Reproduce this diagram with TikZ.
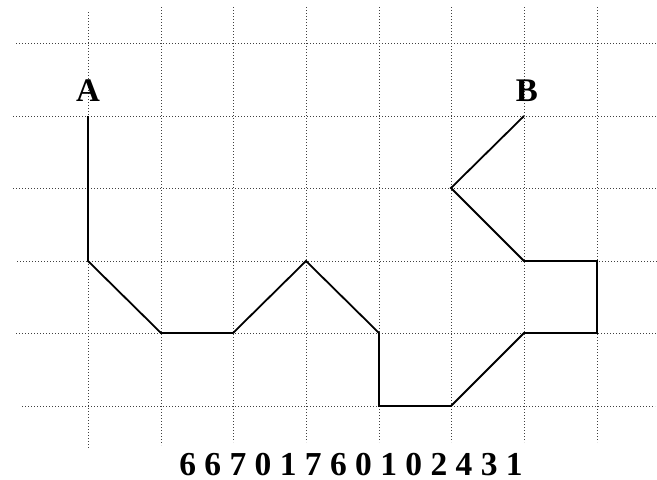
\documentclass[tikz,border=0pt]{standalone}
\usepackage{fontspec}
\setmainfont{Liberation Serif}
\begin{document}
\begin{tikzpicture}[x=1pt,y=-1pt,
  gridline/.style={black!75,line width=0.8pt,dash pattern=on 0.9pt off 2.1pt},
  chain/.style={line width=1.8pt,line join=miter},
  lbl/.style={font=\fontsize{33}{40}\selectfont\bfseries,inner sep=0pt,anchor=base,text depth=0pt}]
\useasboundingbox (0,0) rectangle (657,480);
% horizontal grid lines
\draw[gridline] (16,43) -- (657,43);
\draw[gridline] (13,116) -- (657,116);
\draw[gridline] (13,188) -- (657,188);
\draw[gridline] (17,261) -- (657,261);
\draw[gridline] (16,333) -- (657,333);
\draw[gridline] (22,406) -- (655,406);
% vertical grid lines
\draw[gridline] (88,12) -- (88,448);
\draw[gridline] (161,7) -- (161,445);
\draw[gridline] (233,7) -- (233,442);
\draw[gridline] (306,7) -- (306,442);
\draw[gridline] (379,7) -- (379,442);
\draw[gridline] (451,7) -- (451,442);
\draw[gridline] (524,7) -- (524,442);
\draw[gridline] (597,7) -- (597,442);
% chain points
\coordinate (p0) at (88,116);
\coordinate (p1) at (88,261);
\coordinate (p2) at (161,333);
\coordinate (p3) at (233,333);
\coordinate (p4) at (306,261);
\coordinate (p5) at (379,333);
\coordinate (p6) at (379,406);
\coordinate (p7) at (451,406);
\coordinate (p8) at (524,333);
\coordinate (p9) at (597,333);
\coordinate (p10) at (597,261);
\coordinate (p11) at (524,261);
\coordinate (p12) at (451,188);
\coordinate (p13) at (524,116);
\draw[chain] (p0) -- (p1) -- (p2) -- (p3) -- (p4) -- (p5) -- (p6) -- (p7) -- (p8) -- (p9) -- (p10) -- (p11) -- (p12) -- (p13);
% labels
\node[lbl] (A) at (88,101) {A};
\node[lbl] (B) at (527,101) {B};
\node[lbl,font=\fontsize{33.5}{40}\selectfont\bfseries] (code) at (351,475) {6 6 7 0 1 7 6 0 1 0 2 4 3 1};
\end{tikzpicture}
\end{document}
